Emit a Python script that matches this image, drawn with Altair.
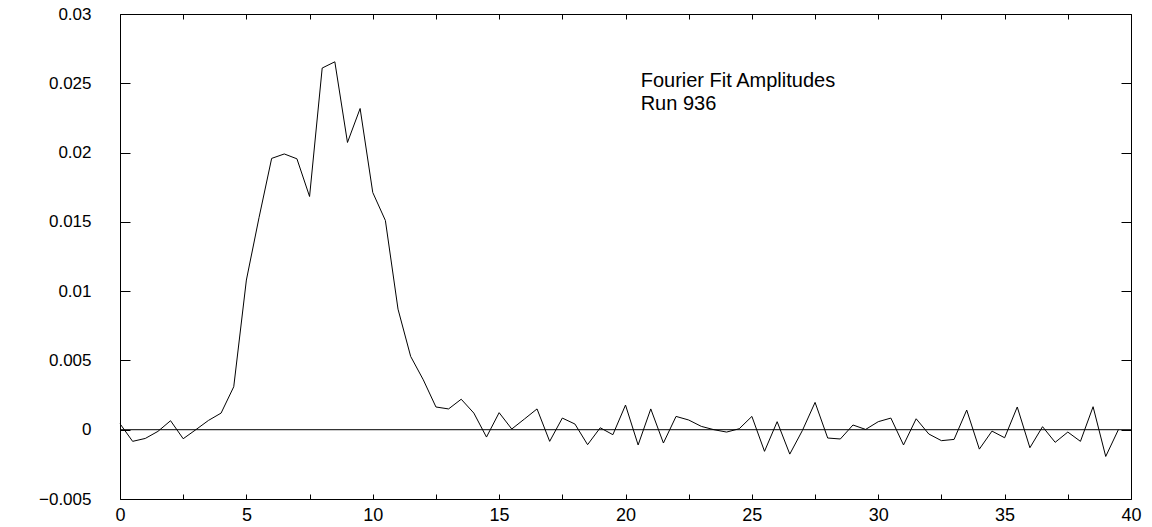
import altair as alt
import pandas as pd

# Sample grid (k values) and measured Fourier fit amplitudes
k_values = [i / 2 for i in range(80)]
amplitudes = [
    0.00043, -0.00084, -0.00063, -0.00012, 0.00065, -0.00065, 0.0, 0.00067,
    0.0012, 0.0031, 0.0108, 0.0153, 0.01958, 0.0199, 0.01955, 0.01683,
    0.0261, 0.02655, 0.02073, 0.02318, 0.01712, 0.0151, 0.0087, 0.00529,
    0.0036, 0.00164, 0.0015, 0.0022, 0.0012, -0.00053, 0.00123, 0.00005,
    0.00077, 0.0015, -0.00084, 0.00084, 0.00041, -0.00108, 0.00014, -0.00036,
    0.00178, -0.0011, 0.0015, -0.00096, 0.00096, 0.0007, 0.00024, 0.0,
    -0.00017, 0.00007, 0.00096, -0.00156, 0.00058, -0.00176, -0.00005, 0.00197,
    -0.0006, -0.00067, 0.00034, 0.00002, 0.00058, 0.00084, -0.0011, 0.00079,
    -0.00031, -0.00079, -0.0007, 0.00142, -0.0014, -0.0001, -0.00058, 0.00164,
    -0.0013, 0.00022, -0.00091, -0.00017, -0.00084, 0.00166, -0.00193, 0.0,
]

x_ticks = [0, 2.5, 5, 7.5, 10, 12.5, 15, 17.5, 20, 22.5, 25, 27.5, 30, 32.5, 35, 37.5, 40]
y_ticks = [-0.005, 0, 0.005, 0.01, 0.015, 0.02, 0.025, 0.03]

note_lines = ["Fourier Fit Amplitudes", "Run 936"]
note_x = [20.6, 20.6]
note_y = [0.02475, 0.02308]

zero_level = [0.0]

df = pd.DataFrame({"k": k_values, "amp": amplitudes})
notes = pd.DataFrame({"nx": note_x, "ny": note_y, "text": note_lines})
zero_df = pd.DataFrame({"z": zero_level})

FONT = "Liberation Sans"

x_scale = alt.Scale(domain=[0, 40], nice=False, zero=False)
y_scale = alt.Scale(domain=[-0.005, 0.03], nice=False, zero=False)

x_bottom = alt.Axis(
    orient="bottom", values=x_ticks, title="", grid=False, domain=False,
    tickSize=5, offset=-5, tickColor="black", tickWidth=1,
    labelExpr="datum.value % 5 == 0 ? datum.label : ''",
    labelFont=FONT, labelFontSize=18, labelColor="black", labelPadding=7,
    labelFlush=False, labelOverlap=False, labelBound=False,
)
y_left = alt.Axis(
    orient="left", values=y_ticks, title="", grid=False, domain=False,
    tickSize=10, offset=-10, tickColor="black", tickWidth=1, format=".3~f",
    labelFont=FONT, labelFontSize=17, labelColor="black", labelPadding=29,
    labelFlush=False, labelOverlap=False, labelBound=False,
)
x_top = alt.Axis(
    orient="top", values=x_ticks, title="", grid=False, domain=False,
    tickSize=5, offset=-5, tickColor="black", tickWidth=1, labels=False,
)
y_right = alt.Axis(
    orient="right", values=y_ticks, title="", grid=False, domain=False,
    tickSize=10, offset=-10, tickColor="black", tickWidth=1, labels=False,
)

line = alt.Chart(df).mark_line(color="black", strokeWidth=1).encode(
    x=alt.X("k:Q", scale=x_scale, axis=x_bottom),
    y=alt.Y("amp:Q", scale=y_scale, axis=y_left),
)

text = alt.Chart(notes).mark_text(
    align="left", baseline="alphabetic", font=FONT, fontSize=20, color="black"
).encode(
    x=alt.X("nx:Q", scale=x_scale, axis=x_top),
    y=alt.Y("ny:Q", scale=y_scale, axis=y_right),
    text="text:N",
)

zero_rule = alt.Chart(zero_df).mark_rule(color="black", strokeWidth=1).encode(
    y=alt.Y("z:Q", scale=y_scale, axis=None)
)

chart = (
    alt.layer(line, text, zero_rule)
    .resolve_axis(x="independent", y="independent")
    .properties(
        width=1011,
        height=485,
        autosize=alt.AutoSizeParams(type="none"),
        padding={"left": 120, "top": 14, "right": 21, "bottom": 28},
        background="white",
    )
    .configure_view(stroke="black", strokeWidth=1)
)

chart.save("out.html", embed_options={"renderer": "svg", "actions": False})
